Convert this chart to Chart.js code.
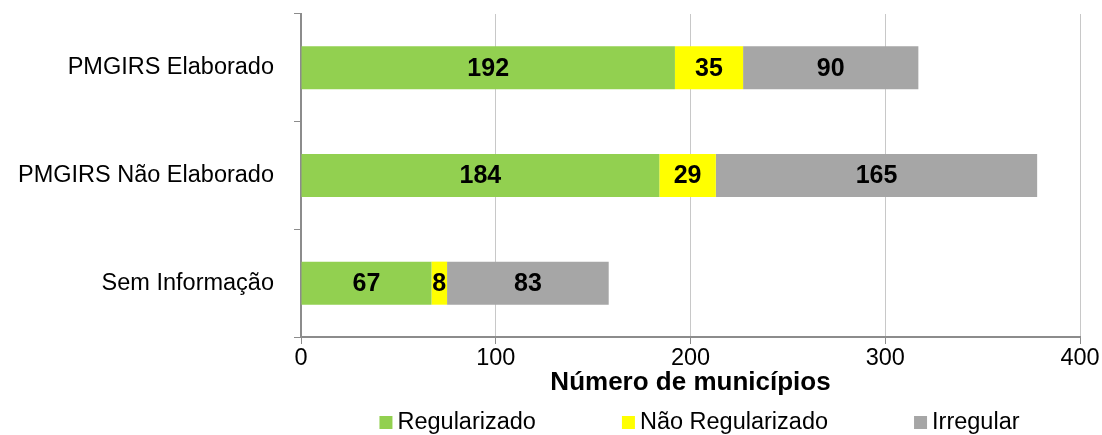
<!DOCTYPE html>
<html>
<head>
<meta charset="utf-8">
<script src="https://cdn.jsdelivr.net/npm/chart.js@4.4.1/dist/chart.umd.min.js"></script>
<style>
  body { margin: 0; background: #fff; }
  canvas { display: block; }
</style>
</head>
<body>
<canvas id="chart" width="1102" height="435"></canvas>
<script>
// data
const categories = ['PMGIRS Elaborado', 'PMGIRS Não Elaborado', 'Sem Informação'];
const seriesNames = ['Regularizado', 'Não Regularizado', 'Irregular'];
const regularizado = [192, 184, 67];
const naoRegularizado = [35, 29, 8];
const irregular = [90, 165, 83];
const xTicks = [0, 100, 200, 300, 400];
const colors = ['#92D050', '#FFFF00', '#A6A6A6'];

const FONT = "'Liberation Sans', Arial, sans-serif";
const axisGray = '#8c8c8c';

// draws the numbers in the middle of each bar segment
const barLabels = {
    id: 'barLabels',
    afterDatasetsDraw(chart) {
        const ctx = chart.ctx;
        ctx.save();
        ctx.font = 'bold 25px ' + FONT;
        ctx.fillStyle = '#000';
        ctx.textAlign = 'center';
        ctx.textBaseline = 'middle';
        chart.data.datasets.forEach((ds, i) => {
            const meta = chart.getDatasetMeta(i);
            meta.data.forEach((bar, j) => {
                const v = ds.data[j];
                if (v) {
                    ctx.fillText(v, (bar.x + bar.base) / 2, bar.y + 1);
                }
            });
        });
        ctx.restore();
    }
};

// legend spread out under the axis title, like the original
const wideLegend = {
    id: 'wideLegend',
    afterDraw(chart) {
        const ctx = chart.ctx;
        const box = 13, gap = 5, spacing = 86;
        ctx.save();
        ctx.font = '23.5px ' + FONT;
        ctx.textBaseline = 'middle';
        const widths = seriesNames.map(n => box + gap + ctx.measureText(n).width);
        const total = widths.reduce((a, b) => a + b, 0) + spacing * (widths.length - 1);
        const area = chart.chartArea;
        let x = (area.left + area.right) / 2 + 9 - total / 2;
        const y = 422;
        seriesNames.forEach((n, i) => {
            ctx.fillStyle = colors[i];
            ctx.fillRect(x, y - 6, box, box);
            ctx.fillStyle = '#000';
            ctx.fillText(n, x + box + gap, y + 1);
            x += widths[i] + spacing;
        });
        ctx.restore();
    }
};

const ctx = document.getElementById('chart').getContext('2d');
new Chart(ctx, {
    type: 'bar',
    data: {
        labels: categories,
        datasets: [
            { label: seriesNames[0], data: regularizado, backgroundColor: colors[0] },
            { label: seriesNames[1], data: naoRegularizado, backgroundColor: colors[1] },
            { label: seriesNames[2], data: irregular, backgroundColor: colors[2] }
        ]
    },
    options: {
        indexAxis: 'y',
        responsive: false,
        animation: false,
        layout: { padding: { top: 14, right: 22, bottom: 38, left: 0 } },
        datasets: {
            bar: { categoryPercentage: 0.8, barPercentage: 0.5, borderWidth: 0 }
        },
        scales: {
            x: {
                stacked: true,
                min: 0,
                max: 400,
                afterBuildTicks: scale => {
                    scale.ticks = xTicks.map(v => ({ value: v }));
                },
                afterFit: scale => { scale.height = 60; },
                grid: {
                    color: '#c8c8c8',
                    tickColor: axisGray,
                    tickLength: 7,
                    lineWidth: 1
                },
                border: { color: axisGray, width: 2 },
                ticks: {
                    padding: 0,
                    color: '#000',
                    font: { family: FONT, size: 23.5 }
                },
                title: {
                    display: true,
                    text: 'Número de municípios',
                    color: '#000',
                    font: { family: FONT, size: 26, weight: 'bold', lineHeight: 1 },
                    padding: { top: 0, bottom: 1 }
                }
            },
            y: {
                stacked: true,
                afterFit: scale => {
                    scale.width = 301;
                    scale.paddingTop = 0;
                    scale.paddingBottom = 0;
                },
                grid: {
                    drawOnChartArea: false,
                    color: axisGray,
                    tickLength: 7
                },
                border: { color: axisGray, width: 2 },
                ticks: {
                    padding: 20,
                    color: '#000',
                    font: { family: FONT, size: 23.5 }
                }
            }
        },
        plugins: {
            legend: { display: false },
            tooltip: { enabled: false }
        }
    },
    plugins: [barLabels, wideLegend]
});
</script>
</body>
</html>
